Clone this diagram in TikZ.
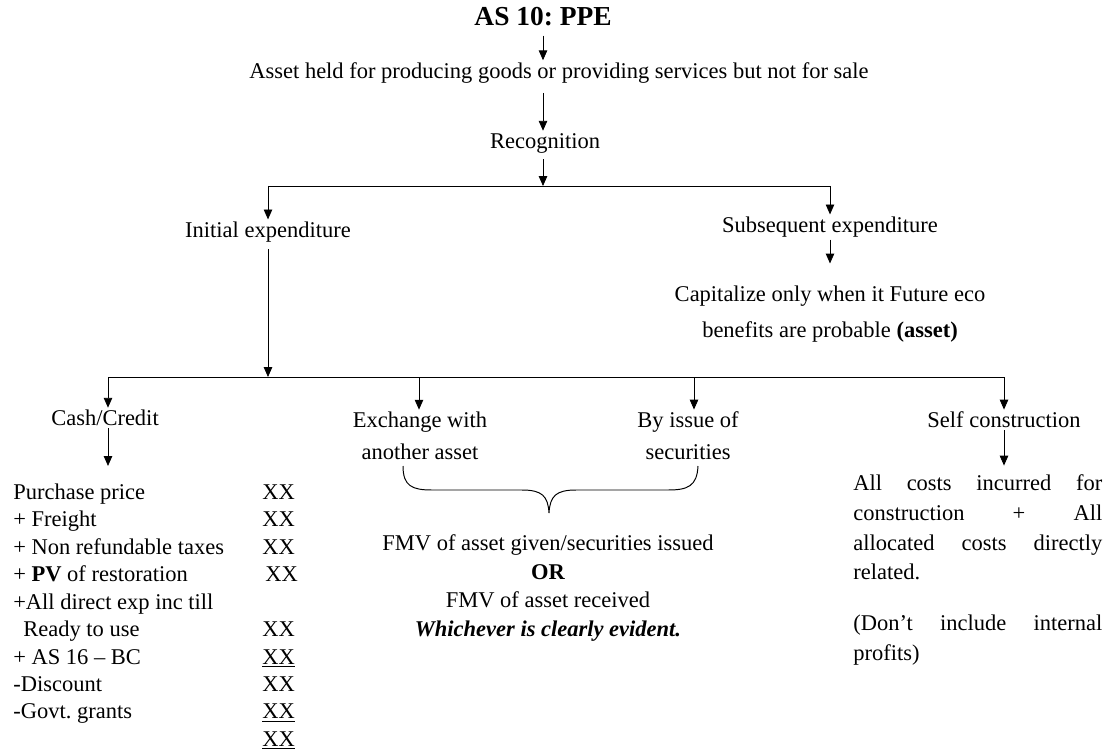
\documentclass[tikz,border=0pt]{standalone}
\usepackage{fontspec}
\setmainfont{Liberation Serif}
\usetikzlibrary{arrows.meta}
\newlength\notew
\setlength\notew{6.225cm}
% a line of the justified note, words spread over the full width
\newcommand\spreadline[1]{\makebox[\notew][l]{#1}}
\frenchspacing
\begin{document}
\begin{tikzpicture}[x=0.025cm,y=-0.025cm,
  every node/.style={inner sep=1.5pt, font=\fontsize{16}{19.5}\selectfont},
  arr/.style={line width=0.6pt, -{Triangle[length=7pt,width=6pt]}},
  bar/.style={line width=0.7pt}]
\useasboundingbox (0,0) rectangle (1110,755);

% top chain
\node[font=\fontsize{19.5}{23}\selectfont\bfseries] (title) at (543,17) {AS 10: PPE};
\node (asset) at (559,73) {Asset held for producing goods or providing services but not for sale};
\node (recog) at (545,143) {Recognition};
\coordinate (b1) at (543,186);
\coordinate (b1l) at (268,186);
\coordinate (b1r) at (830,186);

\draw[arr, shorten <=5pt] (title.south -| b1) -- (asset.north -| b1);
\draw[arr, shorten <=5pt] (asset.south -| b1) -- (recog.north -| b1);
\draw[arr, shorten <=3pt] (recog.south -| b1) -- (b1);
\draw[bar] (b1l) -- (b1r);

% two kinds of expenditure
\node (init) at (268,232) {Initial expenditure};
\node (subs) at (830,227) {Subsequent expenditure};
\node[align=center, font=\fontsize{16}{26}\selectfont] (cap) at (830,314)
  {Capitalize only when it Future eco\\benefits are probable \textbf{(asset)}};
\draw[arr] (b1l) -- (init.north);
\draw[arr] (b1r) -- (subs.north);
\draw[arr, shorten >=14pt] (subs.south) -- (subs.south |- cap.north);

% modes of acquisition
\coordinate (b2) at (268,377);
\coordinate (b2l) at (108,377);
\coordinate (b2e) at (419,377);
\coordinate (b2i) at (694,377);
\coordinate (b2r) at (1004,377);
\draw[arr, shorten <=3pt] (init.south) -- (b2);
\draw[bar] (b2l) -- (b2r);

\node (cash) at (105,418) {Cash/Credit};
\node[align=center, font=\fontsize{16}{22.8}\selectfont] (exch) at (420,436) {Exchange with\\another asset};
\node[align=center, font=\fontsize{16}{22.8}\selectfont] (issue) at (688,436) {By issue of\\securities};
\node (self) at (1004,420) {Self construction};

\draw[arr] (b2l) -- (cash.north -| b2l);
\draw[arr] (b2e) -- (exch.north -| b2e);
\draw[arr] (b2i) -- (issue.north -| b2i);
\draw[arr] (b2r) -- (self.north -| b2r);

% cost build-up for cash / credit purchase
\node[anchor=north west, inner sep=0] (costs) at (13,480) {%
\renewcommand\arraystretch{1}%
\begin{tabular}{@{}p{6.225cm}@{}l@{}}
Purchase price & XX\\
+ Freight & XX\\
+ Non refundable taxes & XX\\
+ \textbf{PV} of restoration & \hspace*{0.075cm}XX\\
+All direct exp inc till & \\
\hspace*{0.25cm}Ready to use & XX\\
+ AS 16 -- BC & \underline{XX}\\
-Discount & XX\\
-Govt. grants & \underline{XX}\\
 & \underline{XX}
\end{tabular}};
\draw[arr, shorten >=10pt] (cash.south -| b2l) -- (costs.north -| b2l);

% exchange / securities
\draw[line width=0.7pt] (403,466) .. controls (403,486) and (412,490) .. (432,490)
  -- (522,490) .. controls (542,490) and (548,496) .. (549,513)
  .. controls (550,496) and (556,490) .. (576,490)
  -- (668,490) .. controls (688,490) and (697,486) .. (698,466);
\node[align=center, font=\fontsize{16}{20.2}\selectfont] (fmv) at (548,588)
  {FMV of asset given/securities issued\\\textbf{OR}\\FMV of asset received\\
   \textbf{\textit{Whichever is clearly evident.}}};

% self construction
\node[anchor=north west, inner sep=0, text width=\notew, align=left,
      font=\fontsize{16}{21.3}\selectfont] (selfnote) at (853,474) {%
\spreadline{All\hfill costs\hfill incurred\hfill for}\\
\spreadline{construction\hfill +\hfill All}\\
\spreadline{allocated\hfill costs\hfill directly}\\
related.\\[0.525cm]
\spreadline{(Don’t\hfill include\hfill internal}\\
profits)};
\draw[arr, shorten >=6pt] (self.south -| b2r) -- (selfnote.north -| b2r);
\end{tikzpicture}
\end{document}
